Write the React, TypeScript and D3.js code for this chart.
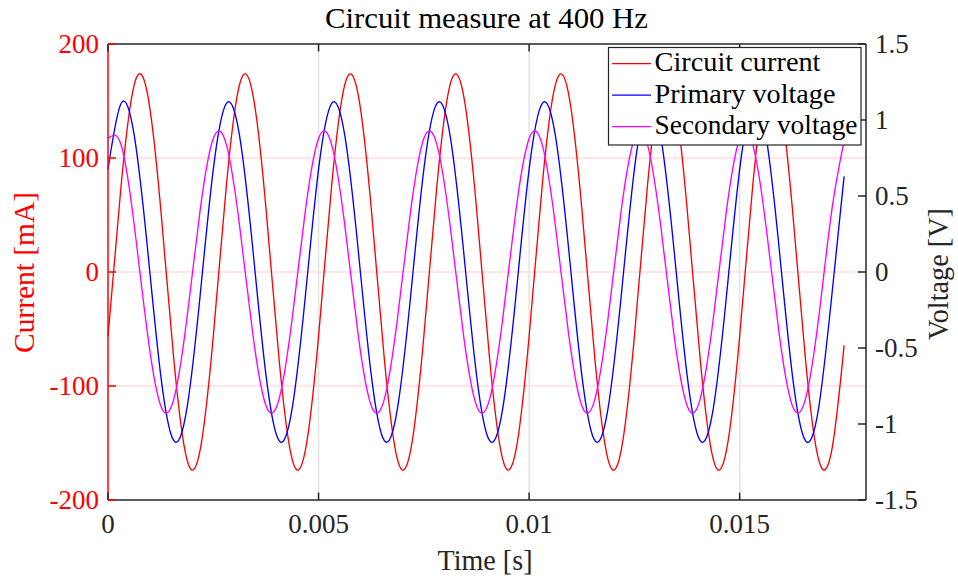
import React from "react";
import * as d3 from "d3";

// Sample times [s] (eighth-period spacing of the 400 Hz signal)
const timeS = [
  0, 0.0003125, 0.000625, 0.0009375, 0.00125, 0.0015625, 0.001875, 0.0021875,
  0.0025, 0.0028125, 0.003125, 0.0034375, 0.00375, 0.0040625, 0.004375, 0.0046875,
  0.005, 0.0053125, 0.005625, 0.0059375, 0.00625, 0.0065625, 0.006875, 0.0071875,
  0.0075, 0.0078125, 0.008125, 0.0084375, 0.00875, 0.0090625, 0.009375, 0.0096875,
  0.01, 0.0103125, 0.010625, 0.0109375, 0.01125, 0.0115625, 0.011875, 0.0121875,
  0.0125, 0.0128125, 0.013125, 0.0134375, 0.01375, 0.0140625, 0.014375, 0.0146875,
  0.015, 0.0153125, 0.015625, 0.0159375, 0.01625, 0.0165625, 0.016875, 0.0171875,
  0.01748,
];

// Circuit current [mA]
const currentMA = [
  -56.4, 76.5, 164.6, 156.3, 56.4, -76.5, -164.6, -156.3,
  -56.4, 76.5, 164.6, 156.3, 56.4, -76.5, -164.6, -156.3,
  -56.4, 76.5, 164.6, 156.3, 56.4, -76.5, -164.6, -156.3,
  -56.4, 76.5, 164.6, 156.3, 56.4, -76.5, -164.6, -156.3,
  -56.4, 76.5, 164.6, 156.3, 56.4, -76.5, -164.6, -156.3,
  -56.4, 76.5, 164.6, 156.3, 56.4, -76.5, -164.6, -156.3,
  -56.4, 76.5, 164.6, 156.3, 56.4, -76.5, -164.6, -156.3,
  -64.4,
];

// Primary voltage [V]
const primaryV = [
  0.675, 1.11, 0.895, 0.156, -0.675, -1.11, -0.895, -0.156,
  0.675, 1.11, 0.895, 0.156, -0.675, -1.11, -0.895, -0.156,
  0.675, 1.11, 0.895, 0.156, -0.675, -1.11, -0.895, -0.156,
  0.675, 1.11, 0.895, 0.156, -0.675, -1.11, -0.895, -0.156,
  0.675, 1.11, 0.895, 0.156, -0.675, -1.11, -0.895, -0.156,
  0.675, 1.11, 0.895, 0.156, -0.675, -1.11, -0.895, -0.156,
  0.675, 1.11, 0.895, 0.156, -0.675, -1.11, -0.895, -0.156,
  0.629,
];

// Secondary voltage [V]
const secondaryV = [
  0.878, 0.836, 0.304, -0.405, -0.878, -0.836, -0.304, 0.405,
  0.878, 0.836, 0.304, -0.405, -0.878, -0.836, -0.304, 0.405,
  0.878, 0.836, 0.304, -0.405, -0.878, -0.836, -0.304, 0.405,
  0.878, 0.836, 0.304, -0.405, -0.878, -0.836, -0.304, 0.405,
  0.878, 0.836, 0.304, -0.405, -0.878, -0.836, -0.304, 0.405,
  0.878, 0.836, 0.304, -0.405, -0.878, -0.836, -0.304, 0.405,
  0.878, 0.836, 0.304, -0.405, -0.878, -0.836, -0.304, 0.405,
  0.861,
];

const xTicks = [0, 0.005, 0.01, 0.015];
const xTickLabels = ["0", "0.005", "0.01", "0.015"];
const leftTicks = [-200, -100, 0, 100, 200];
const leftTickLabels = ["-200", "-100", "0", "100", "200"];
const rightTicks = [-1.5, -1, -0.5, 0, 0.5, 1, 1.5];
const rightTickLabels = ["-1.5", "-1", "-0.5", "0", "0.5", "1", "1.5"];
const legendLabels = ["Circuit current", "Primary voltage", "Secondary voltage"];

const W = 958;
const H = 579;
const FONT = "Liberation Serif";
const DARK = "#262626";
const RED = "#ff0000";
const BLUE = "#0000ff";
const MAG = "#ff00ff";

export default function App() {
  const left = 108, right = 866, top = 44, bottom = 500;
  const x = d3.scaleLinear().domain([0, 0.018]).range([left, right]);
  const yL = d3.scaleLinear().domain([-200, 200]).range([bottom, top]);
  const yR = d3.scaleLinear().domain([-1.5, 1.5]).range([bottom, top]);

  const mk = (vals: number[], ys: d3.ScaleLinear<number, number>) =>
    d3
      .line<number>()
      .x((_, i) => x(timeS[i]))
      .y((d) => ys(d))
      .curve(d3.curveNatural)(vals) || "";

  const series = [
    { path: mk(currentMA, yL), color: RED },
    { path: mk(primaryV, yR), color: BLUE },
    { path: mk(secondaryV, yR), color: MAG },
  ];
  const legendColors = [RED, BLUE, MAG];
  const legendWidths = [166, 181, 203];
  const lgX = 608.5, lgY = 47.5, lgW = 252.5, lgH = 97.5;
  const rowY = [63.7, 95.2, 126.7];
  const tf = { fontFamily: FONT };

  return (
    <svg
      width={W}
      height={H}
      style={{ position: "absolute", left: 0, top: 0, display: "block", background: "#fff", fontFamily: FONT }}
    >
      <rect x={0} y={0} width={W} height={H} fill="#fff" />
      {/* grid */}
      {xTicks.slice(1).map((t) => (
        <line key={"gx" + t} x1={x(t)} x2={x(t)} y1={top} y2={bottom} stroke="#e3e3e3" strokeWidth={1.5} />
      ))}
      {leftTicks.slice(1, -1).map((t) => (
        <line key={"gy" + t} x1={left} x2={right} y1={yL(t)} y2={yL(t)} stroke="#ffdcdc" strokeWidth={1.5} />
      ))}
      {/* data */}
      {series.map((s, i) => (
        <path key={i} d={s.path} fill="none" stroke={s.color} strokeWidth={1.35} />
      ))}
      {/* axes box */}
      <line x1={left} x2={right} y1={top} y2={top} stroke={DARK} strokeWidth={1.5} />
      <line x1={left} x2={right} y1={bottom} y2={bottom} stroke={DARK} strokeWidth={1.5} />
      <line x1={right} x2={right} y1={top} y2={bottom} stroke={DARK} strokeWidth={1.5} />
      <line x1={left} x2={left} y1={top} y2={bottom} stroke={RED} strokeWidth={1.5} />
      {/* x ticks */}
      {xTicks.map((t, i) => (
        <g key={"xt" + t}>
          <line x1={x(t)} x2={x(t)} y1={bottom} y2={bottom - 7.5} stroke={DARK} strokeWidth={1.5} />
          <line x1={x(t)} x2={x(t)} y1={top} y2={top + 7.5} stroke={DARK} strokeWidth={1.5} />
          <text x={x(t)} y={bottom + 32.5} textAnchor="middle" fontSize={27} fill={DARK} style={tf}>
            {xTickLabels[i]}
          </text>
        </g>
      ))}
      {/* left ticks */}
      {leftTicks.map((t, i) => (
        <g key={"lt" + t}>
          <line x1={left} x2={left + 8} y1={yL(t)} y2={yL(t)} stroke={RED} strokeWidth={1.5} />
          <text x={left - 9} y={yL(t) + 9.3} textAnchor="end" fontSize={27} fill={RED} style={tf}>
            {leftTickLabels[i]}
          </text>
        </g>
      ))}
      {/* right ticks */}
      {rightTicks.map((t, i) => (
        <g key={"rt" + t}>
          <line x1={right} x2={right - 8} y1={yR(t)} y2={yR(t)} stroke={DARK} strokeWidth={1.5} />
          <text x={right + 9} y={yR(t) + 9.3} textAnchor="start" fontSize={27} fill={DARK} style={tf}>
            {rightTickLabels[i]}
          </text>
        </g>
      ))}
      {/* title & labels */}
      <text x={486.5} y={28} textAnchor="middle" fontSize={29} fill="#000" style={tf} textLength={323} lengthAdjust="spacingAndGlyphs">
        Circuit measure at 400 Hz
      </text>
      <text x={485} y={570} textAnchor="middle" fontSize={30} fill={DARK} style={tf} textLength={95} lengthAdjust="spacingAndGlyphs">
        Time [s]
      </text>
      <text transform="translate(33.5,272.5) rotate(-90)" textAnchor="middle" fontSize={30} fill={RED} style={tf} textLength={161} lengthAdjust="spacingAndGlyphs">
        Current [mA]
      </text>
      <text transform="translate(948,274) rotate(-90)" textAnchor="middle" fontSize={30} fill={DARK} style={tf} textLength={132} lengthAdjust="spacingAndGlyphs">
        Voltage [V]
      </text>
      {/* legend */}
      <rect x={lgX} y={lgY} width={lgW} height={lgH} fill="#fff" stroke={DARK} strokeWidth={1.2} />
      {legendLabels.map((lab, i) => (
        <g key={lab}>
          <line x1={612} x2={651} y1={rowY[i]} y2={rowY[i]} stroke={legendColors[i]} strokeWidth={1.3} />
          <text x={654.5} y={rowY[i] + 7.4} fontSize={27} fill="#000" style={tf} textLength={legendWidths[i]} lengthAdjust="spacingAndGlyphs">
            {lab}
          </text>
        </g>
      ))}
    </svg>
  );
}
